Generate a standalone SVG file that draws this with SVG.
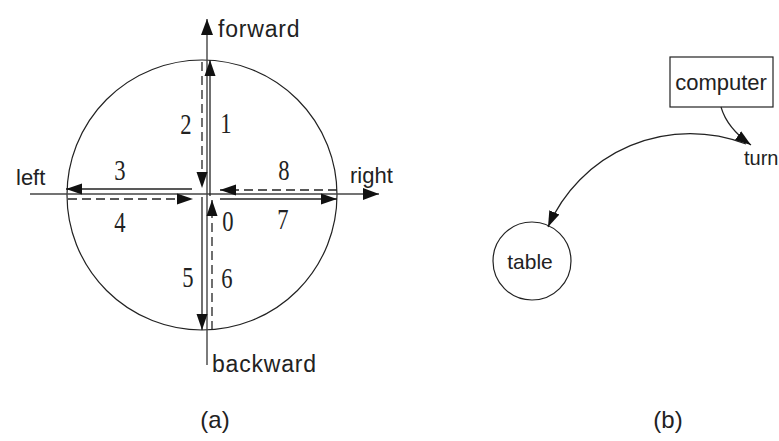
<svg xmlns="http://www.w3.org/2000/svg" width="779" height="441" viewBox="0 0 779 441">
<style>
.sans{font-family:"Liberation Sans",Arial,sans-serif;fill:#222;}
.num{font-family:"Liberation Serif","Times New Roman",serif;font-size:29px;fill:#222;text-anchor:middle;}
.axis{stroke:#444;stroke-width:1.4;fill:none;}
.solid{stroke:#222;stroke-width:1.3;fill:none;}
.dash{stroke:#222;stroke-width:1.3;fill:none;stroke-dasharray:9 5;}
.thin{stroke:#222;stroke-width:1.2;fill:none;}
</style>
<defs>
<marker id="ah" markerUnits="userSpaceOnUse" markerWidth="18" markerHeight="14" refX="16" refY="6" orient="auto">
<path d="M0,0 L16,6 L0,12 Z" fill="#111"/>
</marker>
<marker id="ahs" markerUnits="userSpaceOnUse" markerWidth="18" markerHeight="14" refX="16" refY="6" orient="auto">
<path d="M0,0.5 L16,6 L0,11.5 Z" fill="#111"/>
</marker>
</defs>

<g id="part-a">
<circle id="circle" cx="202" cy="195" r="135" class="thin"/>
<g id="axes">
<line class="axis" x1="207" y1="365" x2="207" y2="19" marker-end="url(#ah)"/>
<line class="axis" x1="30" y1="194" x2="379" y2="194" marker-end="url(#ah)"/>
</g>
<g id="connectors">
<line class="solid" x1="210" y1="196" x2="210" y2="60" marker-end="url(#ahs)"/>
<line class="dash" x1="202" y1="62" x2="202" y2="188" marker-end="url(#ahs)"/>
<line class="solid" x1="192" y1="189" x2="66" y2="189" marker-end="url(#ahs)"/>
<line class="dash" x1="68" y1="199" x2="193" y2="199" marker-end="url(#ahs)"/>
<line class="dash" x1="337" y1="190" x2="220" y2="190" marker-end="url(#ahs)"/>
<line class="solid" x1="220" y1="199" x2="337" y2="199" marker-end="url(#ahs)"/>
<line class="solid" x1="202" y1="197" x2="202" y2="330" marker-end="url(#ahs)"/>
<line class="dash" x1="212" y1="330" x2="212" y2="200" marker-end="url(#ahs)"/>
</g>
<g id="labels-a">
<text class="sans" x="218" y="37" font-size="23" letter-spacing="0.8">forward</text>
<text class="sans" x="212" y="372" font-size="23" letter-spacing="0.8">backward</text>
<text class="sans" x="16" y="185" font-size="22">left</text>
<text class="sans" x="350" y="183" font-size="22">right</text>
<text class="num" transform="translate(226,133) scale(0.78,1)">1</text>
<text class="num" transform="translate(186,134) scale(0.78,1)">2</text>
<text class="num" transform="translate(120,180) scale(0.78,1)">3</text>
<text class="num" transform="translate(284,180) scale(0.78,1)">8</text>
<text class="num" transform="translate(120,232) scale(0.78,1)">4</text>
<text class="num" transform="translate(283,229) scale(0.78,1)">7</text>
<text class="num" transform="translate(228,231) scale(0.78,1)">0</text>
<text class="num" transform="translate(188,287) scale(0.78,1)">5</text>
<text class="num" transform="translate(227,288) scale(0.78,1)">6</text>
<text class="sans" x="215" y="428" font-size="24" text-anchor="middle">(a)</text>
</g>
</g>

<g id="part-b">
<g id="computer">
<rect x="670" y="57" width="103" height="50" class="thin" fill="#fff"/>
<text class="sans" x="721" y="90" font-size="22" text-anchor="middle">computer</text>
</g>
<g id="turn">
<text class="sans" x="744" y="165" font-size="20">turn</text>
</g>
<g id="table">
<circle cx="532" cy="261" r="39" class="thin"/>
<text class="sans" x="530" y="269" font-size="21" text-anchor="middle">table</text>
</g>
<g id="connectors-b">
<path class="thin" d="M721,107 Q727,128 751,145" marker-end="url(#ahs)"/>
<path class="thin" d="M746,144 A155,155 0 0 0 548,227" marker-end="url(#ahs)"/>
</g>
<text class="sans" x="668" y="428" font-size="24" text-anchor="middle">(b)</text>
</g>
</svg>
